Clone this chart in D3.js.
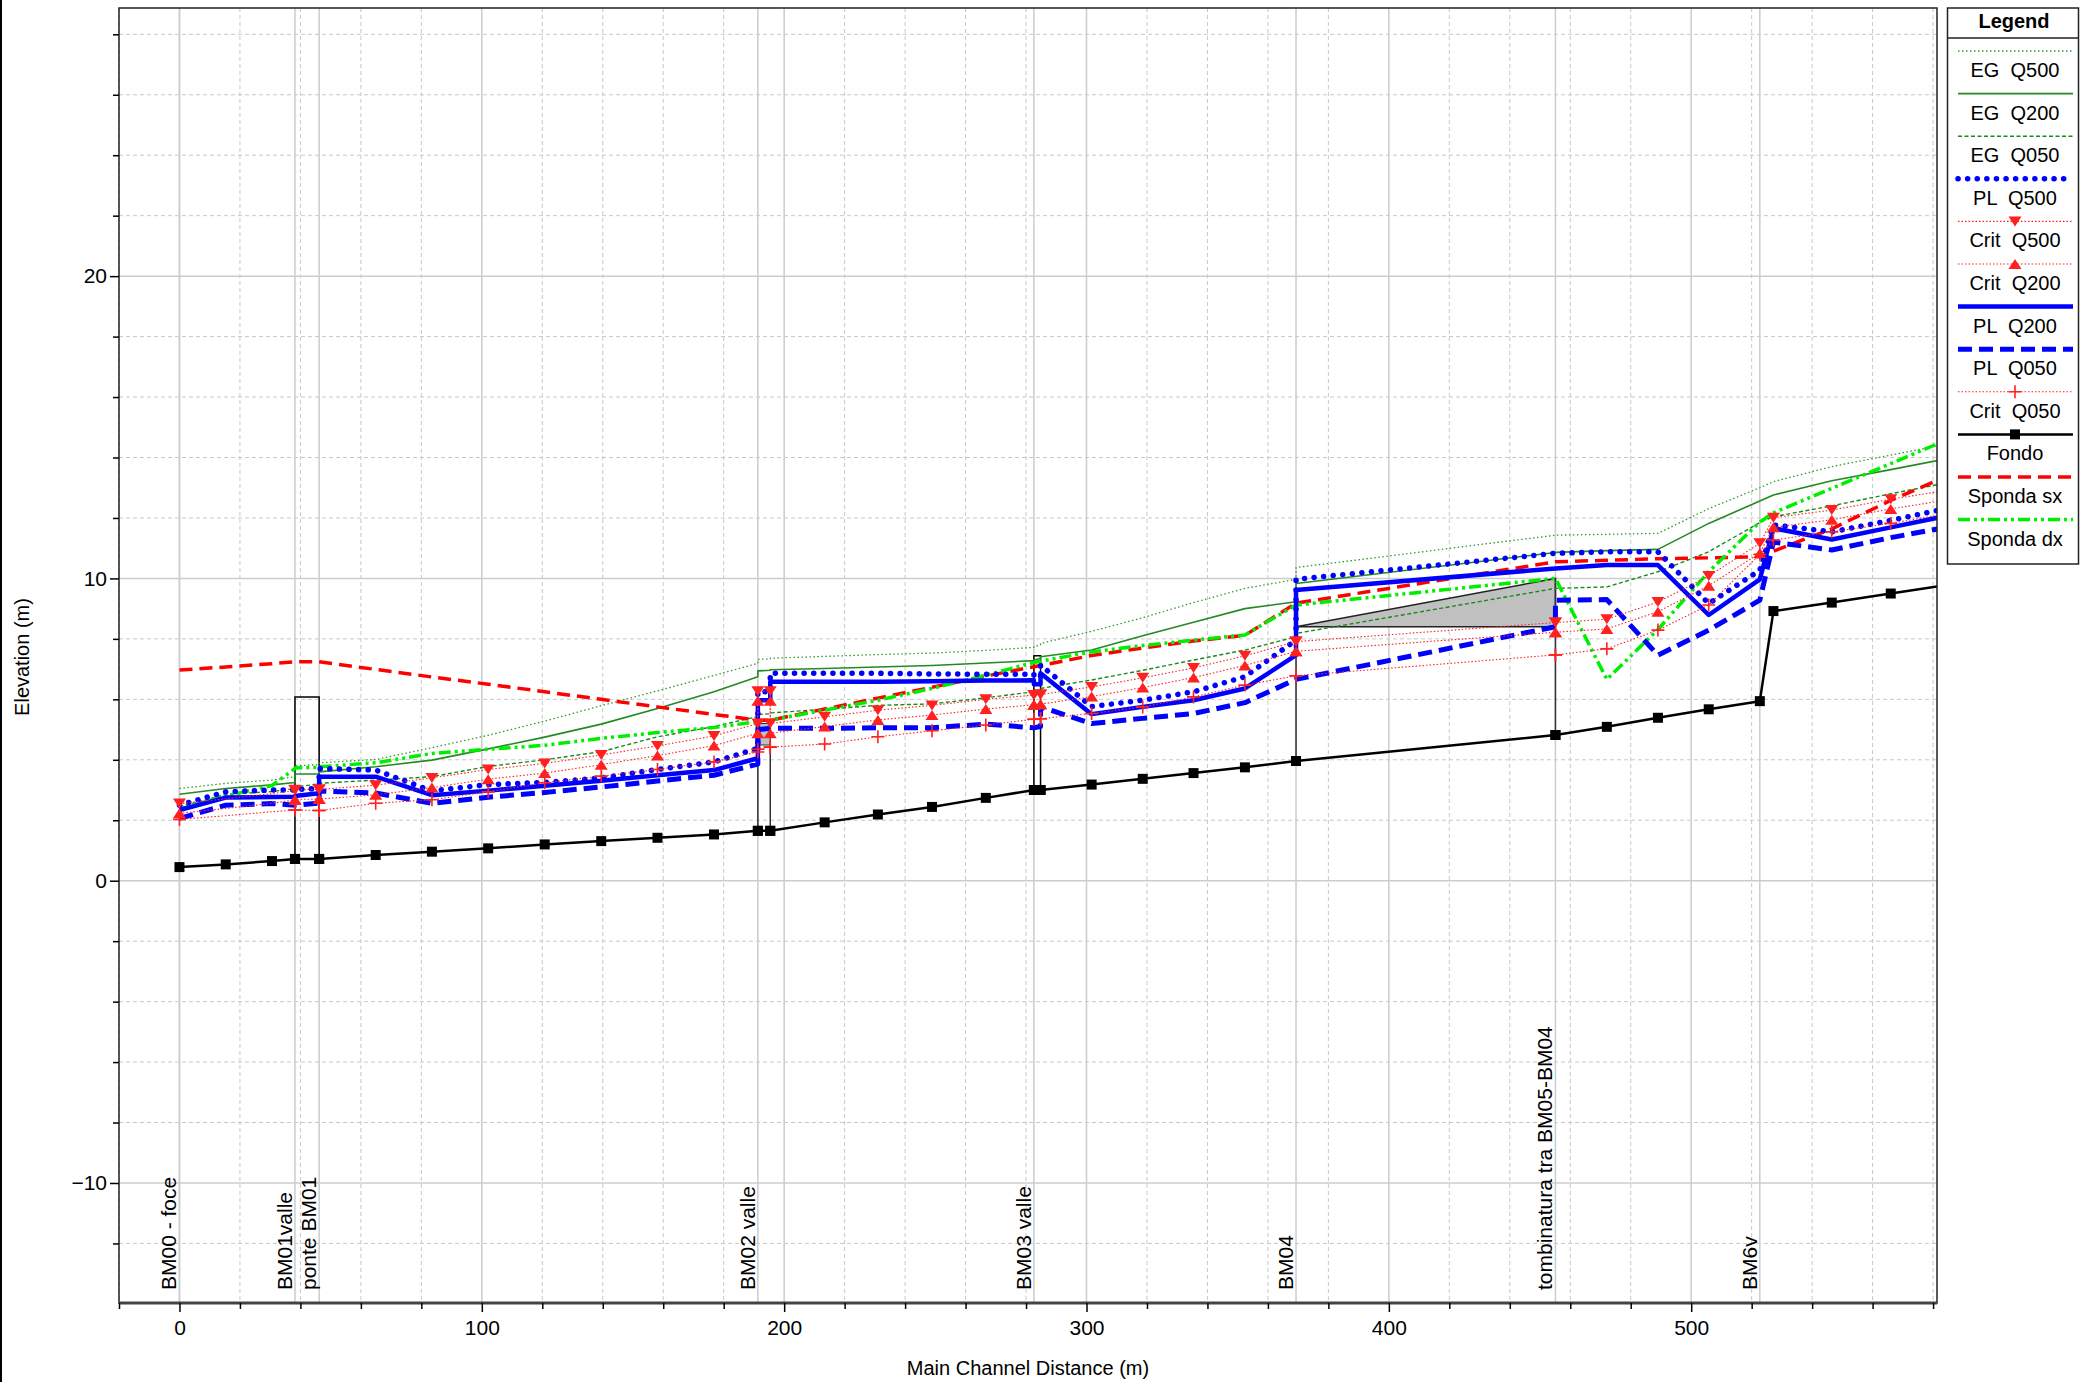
<!DOCTYPE html>
<html>
<head>
<meta charset="utf-8">
<script src="https://cdn.jsdelivr.net/npm/d3@7"></script>
<style>
  body { margin: 0; background: #fff; }
  svg { display: block; font-family: 'Liberation Sans', Arial, sans-serif; }
</style>
</head>
<body>
<div id="chart"></div>
<script>

/// stations along the main channel (m), structures repeat their station for the internal sections
let stations = [0, 15.3, 30.6, 38.2, 38.2, 46.2, 46.2, 64.9, 83.5, 102.1, 120.8, 139.5, 158.1, 176.8,
  191.3, 191.3, 195.4, 195.4, 213.4, 231, 248.9, 266.7, 282.6, 282.6, 284.8, 284.8, 301.7, 318.6,
  335.4, 352.4, 369.3, 369.3, 455.1, 455.1, 472.1, 489, 505.8, 522.7, 527.2, 546.5, 566, 585];

let egQ500 = [3.05, 3.22, 3.33, 3.44, 3.80, 3.84, 3.90, 4.01, 4.40, 4.81, 5.28, 5.79, 6.28, 6.79,
  7.19, 7.32, 7.34, 7.36, 7.42, 7.48, 7.53, 7.62, 7.72, 7.74, 7.80, 7.85, 8.25, 8.70,
  9.20, 9.67, 9.97, 10.36, 11.43, 11.43, 11.46, 11.49, 12.31, 13.00, 13.20, 13.70, 14.08, 14.45];

let egQ200 = [2.86, 3.05, 3.17, 3.25, 3.53, 3.53, 3.60, 3.77, 3.99, 4.36, 4.75, 5.18, 5.70, 6.25,
  6.75, 6.94, 6.96, 6.98, 7.02, 7.07, 7.12, 7.20, 7.28, 7.30, 7.35, 7.41, 7.63, 8.10,
  8.55, 9.00, 9.23, 9.83, 10.86, 10.86, 10.92, 10.96, 11.82, 12.56, 12.76, 13.23, 13.60, 13.97];

let egQ050 = [2.45, 2.85, 2.95, 3.05, 3.10, 3.20, 3.22, 3.33, 3.44, 3.78, 4.00, 4.27, 4.76, 5.10,
  5.43, 5.50, 5.52, 5.55, 5.67, 5.80, 5.85, 6.05, 6.25, 6.28, 6.32, 6.36, 6.64, 6.96,
  7.30, 7.63, 8.07, 8.18, 9.67, 9.67, 9.72, 10.22, 10.88, 11.85, 12.04, 12.40, 12.80, 13.17];

let plQ500 = [2.50, 2.94, 3.00, 3.00, 3.02, 3.05, 3.71, 3.66, 2.97, 3.18, 3.25, 3.40, 3.68, 3.93,
  4.38, 6.25, 6.25, 6.86, 6.86, 6.86, 6.84, 6.83, 6.83, 6.75, 6.75, 7.13, 5.76, 5.97,
  6.25, 6.75, 7.96, 9.97, 10.83, 10.83, 10.88, 10.88, 9.17, 10.27, 11.77, 11.54, 11.92, 12.32];

let plQ200 = [2.34, 2.75, 2.77, 2.78, 2.80, 2.89, 3.44, 3.44, 2.83, 2.98, 3.14, 3.31, 3.49, 3.66,
  4.05, 5.97, 5.97, 6.58, 6.58, 6.58, 6.60, 6.62, 6.63, 6.50, 6.50, 6.86, 5.51, 5.75,
  5.97, 6.36, 7.46, 9.62, 10.33, 10.33, 10.44, 10.44, 8.79, 9.97, 11.66, 11.29, 11.69, 12.08];

let plQ050 = [2.06, 2.50, 2.55, 2.50, 2.50, 2.57, 2.97, 2.90, 2.56, 2.76, 2.92, 3.10, 3.30, 3.49,
  3.86, 5.00, 5.04, 5.04, 5.04, 5.06, 5.06, 5.18, 5.06, 5.06, 5.10, 5.75, 5.20, 5.37,
  5.53, 5.89, 6.66, 6.66, 8.40, 9.28, 9.30, 7.46, 8.29, 9.28, 11.20, 10.94, 11.35, 11.70];

let critQ500 = [2.55, 2.71, 2.88, 2.99, 3.01, 3.02, 3.02, 3.16, 3.40, 3.68, 3.88, 4.16, 4.46, 4.79,
  5.20, 6.27, 6.27, 5.20, 5.42, 5.64, 5.80, 6.00, 6.14, 6.14, 6.16, 6.16, 6.41, 6.71,
  7.04, 7.44, 7.91, 7.91, 8.54, 8.54, 8.65, 9.22, 10.08, 11.16, 12.01, 12.26, 12.62, 12.92];

let critQ200 = [2.23, 2.39, 2.56, 2.67, 2.69, 2.70, 2.70, 2.84, 3.08, 3.36, 3.56, 3.84, 4.14, 4.47,
  4.88, 5.95, 5.95, 4.88, 5.10, 5.32, 5.48, 5.68, 5.82, 5.82, 5.84, 5.84, 6.09, 6.39,
  6.72, 7.12, 7.59, 7.59, 8.22, 8.22, 8.33, 8.90, 9.76, 10.84, 11.69, 11.94, 12.30, 12.60];

let critQ050 = [2.03, 2.15, 2.28, 2.34, 2.34, 2.32, 2.32, 2.56, 2.68, 2.94, 3.24, 3.46, 3.68, 3.93,
  4.26, 4.35, 4.42, 4.42, 4.52, 4.76, 4.96, 5.15, 5.34, 5.34, 5.36, 5.36, 5.53, 5.75,
  6.08, 6.47, 6.78, 6.78, 7.47, 7.47, 7.67, 8.29, 9.12, 10.80, 11.27, 11.54, 11.82, 12.15];

let fondo = [0.45, 0.54, 0.65, 0.72, 0.72, 0.72, 0.72, 0.85, 0.96, 1.07, 1.20, 1.31, 1.42, 1.53,
  1.65, 1.65, 1.65, 1.65, 1.93, 2.19, 2.44, 2.74, 3.00, 3.00, 3.00, 3.00, 3.18, 3.37,
  3.56, 3.75, 3.96, 3.96, 4.82, 4.82, 5.09, 5.39, 5.67, 5.94, 8.92, 9.20, 9.50, 9.79];

let spondaSx = [6.97, 7.07, 7.18, 7.24, 7.24, 7.24, 7.24, 6.99, 6.74, 6.50, 6.25, 6.00, 5.75, 5.50,
  5.31, 5.31, 5.31, 5.31, 5.68, 6.04, 6.40, 6.77, 7.08, 7.08, 7.12, 7.12, 7.45, 7.70,
  7.93, 8.12, 9.18, 9.18, 10.55, 10.55, 10.60, 10.65, 10.68, 10.72, 10.90, 11.64, 12.58, 13.40];

let spondaDx = [2.37, 2.80, 3.15, 3.71, 3.73, 3.75, 3.77, 3.90, 4.21, 4.35, 4.48, 4.71, 4.90, 5.07,
  5.26, 5.28, 5.30, 5.31, 5.64, 5.97, 6.36, 6.80, 7.22, 7.22, 7.26, 7.26, 7.57, 7.78,
  7.96, 8.13, 9.12, 9.12, 10.00, 10.00, 6.66, 8.31, 10.22, 11.87, 12.17, 12.98, 13.80, 14.60];

/// stations where no critical depth marker is drawn
let noCritMarker = [1, 2, 41];

/// labelled cross sections
let sectionStations = [0, 38.2, 46.2, 191.3, 282.6, 369.3, 455.1, 522.7];
let sectionNames = ['BM00 - foce', 'BM01valle', 'ponte BM01', 'BM02 valle', 'BM03 valle', 'BM04',
  'tombinatura tra BM05-BM04', 'BM6v'];

/// structures (station, elevation)
let ponteBM01 = [[38.2, 0.72], [38.2, 6.08], [46.2, 6.08], [46.2, 0.72]];
let deckBM02 = [[191.3, 4.49], [195.4, 4.49], [195.4, 5.20], [191.3, 5.20]];
let boxBM03 = [[282.6, 3.0], [282.6, 7.44], [284.8, 7.44], [284.8, 3.0]];
let tombinatura = [[369.3, 8.40], [455.1, 10.0], [455.1, 8.40]];
let structureWalls = [[191.3, 1.65, 4.49], [195.4, 1.65, 4.49], [369.3, 3.96, 8.40], [455.1, 4.82, 10.0]];

let xMajorTicks = [0, 100, 200, 300, 400, 500];
let yMajorTicks = [-10, 0, 10, 20];

let width = 2080;
let height = 1382;
let plot = {left: 119, right: 1937, top: 8, bottom: 1303};

let svg = d3.select('#chart').append('svg')
  .attr('width', width).attr('height', height);

let x = d3.scaleLinear().domain([-20, 581.3]).range([plot.left, plot.right]);
let y = d3.scaleLinear().domain([-13.97, 28.87]).range([plot.bottom, plot.top]);

let xMinor = d3.range(-20, 581, 20).filter(function(d) { return d % 100 !== 0; });
let yMinor = d3.range(-12, 29, 2).filter(function(d) { return d % 10 !== 0; });

/// window border on the left
svg.append('line').attr('x1', 1).attr('x2', 1).attr('y1', 0).attr('y2', height)
  .attr('stroke', '#000').attr('stroke-width', 2);

/// grid
let grid = svg.append('g');
grid.selectAll('.xmin').data(xMinor).enter().append('line')
  .attr('x1', function(d) { return x(d); }).attr('x2', function(d) { return x(d); })
  .attr('y1', plot.top).attr('y2', plot.bottom)
  .attr('stroke', '#c8c8c8').attr('stroke-width', 1).attr('stroke-dasharray', '4,3');
grid.selectAll('.ymin').data(yMinor).enter().append('line')
  .attr('y1', function(d) { return y(d); }).attr('y2', function(d) { return y(d); })
  .attr('x1', plot.left).attr('x2', plot.right)
  .attr('stroke', '#c8c8c8').attr('stroke-width', 1).attr('stroke-dasharray', '4,3');
grid.selectAll('.xmaj').data(xMajorTicks.concat(sectionStations)).enter().append('line')
  .attr('x1', function(d) { return x(d); }).attr('x2', function(d) { return x(d); })
  .attr('y1', plot.top).attr('y2', plot.bottom)
  .attr('stroke', '#cccccc').attr('stroke-width', 1.5);
grid.selectAll('.ymaj').data(yMajorTicks).enter().append('line')
  .attr('y1', function(d) { return y(d); }).attr('y2', function(d) { return y(d); })
  .attr('x1', plot.left).attr('x2', plot.right)
  .attr('stroke', '#cccccc').attr('stroke-width', 1.5);

/// clip to the plot area
svg.append('clipPath').attr('id', 'clip').append('rect')
  .attr('x', plot.left).attr('y', plot.top)
  .attr('width', plot.right - plot.left).attr('height', plot.bottom - plot.top);

let chart = svg.append('g').attr('clip-path', 'url(#clip)');

/// structures
let poly = d3.line().x(function(d) { return x(d[0]); }).y(function(d) { return y(d[1]); });
chart.append('path').attr('d', poly(ponteBM01)).attr('fill', 'none').attr('stroke', '#000').attr('stroke-width', 1.5);
chart.append('path').attr('d', poly(boxBM03)).attr('fill', 'none').attr('stroke', '#000').attr('stroke-width', 1.5);
chart.append('path').attr('d', poly(deckBM02) + 'Z').attr('fill', '#c0c0c0').attr('stroke', '#333').attr('stroke-width', 1.2);
chart.append('path').attr('d', poly(tombinatura) + 'Z').attr('fill', '#c0c0c0').attr('stroke', '#222').attr('stroke-width', 1.5);
chart.selectAll('.wall').data(structureWalls).enter().append('line')
  .attr('x1', function(d) { return x(d[0]); }).attr('x2', function(d) { return x(d[0]); })
  .attr('y1', function(d) { return y(d[1]); }).attr('y2', function(d) { return y(d[2]); })
  .attr('stroke', '#333').attr('stroke-width', 1.5);

/// styles for every series, in legend order
let series = [
  {name: 'EG  Q500', values: egQ500, color: '#2f9a2f', width: 1.3, dash: '1.5,2.5'},
  {name: 'EG  Q200', values: egQ200, color: '#238a23', width: 1.6, dash: null},
  {name: 'EG  Q050', values: egQ050, color: '#1a8a1a', width: 1.4, dash: '4,2.5'},
  {name: 'PL  Q500', values: plQ500, color: '#0000ff', width: 5.5, dash: '0.1,9.5', cap: 'round'},
  {name: 'Crit  Q500', values: critQ500, color: '#ff2020', width: 1.1, dash: '1.5,2', marker: 'down'},
  {name: 'Crit  Q200', values: critQ200, color: '#ff2020', width: 1.1, dash: '1.5,2', marker: 'up'},
  {name: 'PL  Q200', values: plQ200, color: '#0000ff', width: 4.5, dash: null},
  {name: 'PL  Q050', values: plQ050, color: '#0000ff', width: 5, dash: '14,7'},
  {name: 'Crit  Q050', values: critQ050, color: '#ff2020', width: 1.1, dash: '1.5,2', marker: 'plus'},
  {name: 'Fondo', values: fondo, color: '#000000', width: 2.5, dash: null, marker: 'square'},
  {name: 'Sponda sx', values: spondaSx, color: '#ff0000', width: 3.5, dash: '13,7'},
  {name: 'Sponda dx', values: spondaDx, color: '#00ee00', width: 3.5, dash: '12,4,3,4,3,4'}
];

/// drawing order on the plot
let drawOrder = [0, 1, 2, 10, 11, 7, 6, 3, 4, 5, 8, 9];

let line = d3.line()
  .x(function(d, i) { return x(stations[i]); })
  .y(function(d) { return y(d); });

let markerPath = {
  down: 'M-6.5,-5L6.5,-5L0,5Z',
  up: 'M-6.5,5L6.5,5L0,-5Z',
  square: 'M-5,-5L5,-5L5,5L-5,5Z',
  plus: 'M-6.5,0L6.5,0M0,-6.5L0,6.5'
};

function drawMarkers(g, s, pts) {
  g.selectAll('.m').data(pts).enter().append('path')
    .attr('transform', function(d) { return 'translate(' + d[0] + ',' + d[1] + ')'; })
    .attr('d', markerPath[s.marker])
    .attr('fill', s.marker === 'plus' ? 'none' : s.color)
    .attr('stroke', s.color)
    .attr('stroke-width', s.marker === 'plus' ? 1.6 : 0);
}

drawOrder.forEach(function(k) {
  let s = series[k];
  let g = chart.append('g');
  g.append('path').attr('d', line(s.values))
    .attr('fill', 'none').attr('stroke', s.color).attr('stroke-width', s.width)
    .attr('stroke-dasharray', s.dash).attr('stroke-linecap', s.cap || 'butt')
    .attr('stroke-linejoin', 'round');
  if (s.marker) {
    let pts = [];
    s.values.forEach(function(v, i) {
      if (s.marker !== 'square' && noCritMarker.indexOf(i) >= 0) return;
      pts.push([x(stations[i]), y(v)]);
    });
    drawMarkers(g, s, pts);
  }
});

/// cross section labels
svg.append('g').selectAll('text').data(sectionNames).enter().append('text')
  .attr('transform', function(d, i) { return 'translate(' + (x(sectionStations[i]) - 3) + ',1290) rotate(-90)'; })
  .attr('font-size', 21).attr('fill', '#000').text(function(d) { return d; });

/// frame
svg.append('rect').attr('x', plot.left).attr('y', plot.top)
  .attr('width', plot.right - plot.left).attr('height', plot.bottom - plot.top)
  .attr('fill', 'none').attr('stroke', '#222').attr('stroke-width', 1.5);
svg.append('line').attr('x1', plot.left).attr('x2', plot.right).attr('y1', plot.bottom).attr('y2', plot.bottom)
  .attr('stroke', '#444').attr('stroke-width', 3);

/// axes
let xAxis = svg.append('g').attr('transform', 'translate(0,' + plot.bottom + ')')
  .call(d3.axisBottom(x).tickValues(xMajorTicks).tickSize(9).tickPadding(8).tickFormat(d3.format('d')));
let xAxisMinor = svg.append('g').attr('transform', 'translate(0,' + plot.bottom + ')')
  .call(d3.axisBottom(x).tickValues(xMinor).tickSize(6).tickFormat(''));
let yAxis = svg.append('g').attr('transform', 'translate(' + plot.left + ',0)')
  .call(d3.axisLeft(y).tickValues(yMajorTicks).tickSize(9).tickPadding(3).tickFormat(d3.format('d')));
let yAxisMinor = svg.append('g').attr('transform', 'translate(' + plot.left + ',0)')
  .call(d3.axisLeft(y).tickValues(yMinor).tickSize(6).tickFormat(''));

[xAxis, xAxisMinor, yAxis, yAxisMinor].forEach(function(a) {
  a.select('.domain').remove();
  a.selectAll('line').attr('stroke', '#000').attr('stroke-width', 1.5);
  a.selectAll('text').attr('font-size', 21).attr('fill', '#000')
    .attr('font-family', "'Liberation Sans', Arial, sans-serif");
});

/// axis titles
svg.append('text').attr('transform', 'translate(29,657) rotate(-90)')
  .attr('text-anchor', 'middle').attr('font-size', 20).text('Elevation (m)');
svg.append('text').attr('x', 1028).attr('y', 1375)
  .attr('text-anchor', 'middle').attr('font-size', 20).text('Main Channel Distance (m)');

/// legend
let legend = svg.append('g');
legend.append('rect').attr('x', 1947.5).attr('y', 8).attr('width', 131).attr('height', 556)
  .attr('fill', '#fff').attr('stroke', '#222').attr('stroke-width', 1.5);
legend.append('line').attr('x1', 1947.5).attr('x2', 2078.5).attr('y1', 38).attr('y2', 38)
  .attr('stroke', '#222').attr('stroke-width', 1.5);
legend.append('text').attr('x', 2014).attr('y', 28).attr('text-anchor', 'middle')
  .attr('font-size', 20).attr('font-weight', 'bold').text('Legend');

series.forEach(function(s, i) {
  let ly = 51 + i * 42.6;
  let g = legend.append('g');
  g.append('line').attr('x1', 1958).attr('x2', 2073).attr('y1', ly).attr('y2', ly)
    .attr('stroke', s.color).attr('stroke-width', s.width)
    .attr('stroke-dasharray', s.dash).attr('stroke-linecap', s.cap || 'butt');
  if (s.marker) drawMarkers(g, s, [[2015, ly]]);
  g.append('text').attr('x', 2015).attr('y', ly + 26).attr('text-anchor', 'middle')
    .attr('font-size', 20).style('white-space', 'pre').text(s.name);
});

</script>
</body>
</html>
